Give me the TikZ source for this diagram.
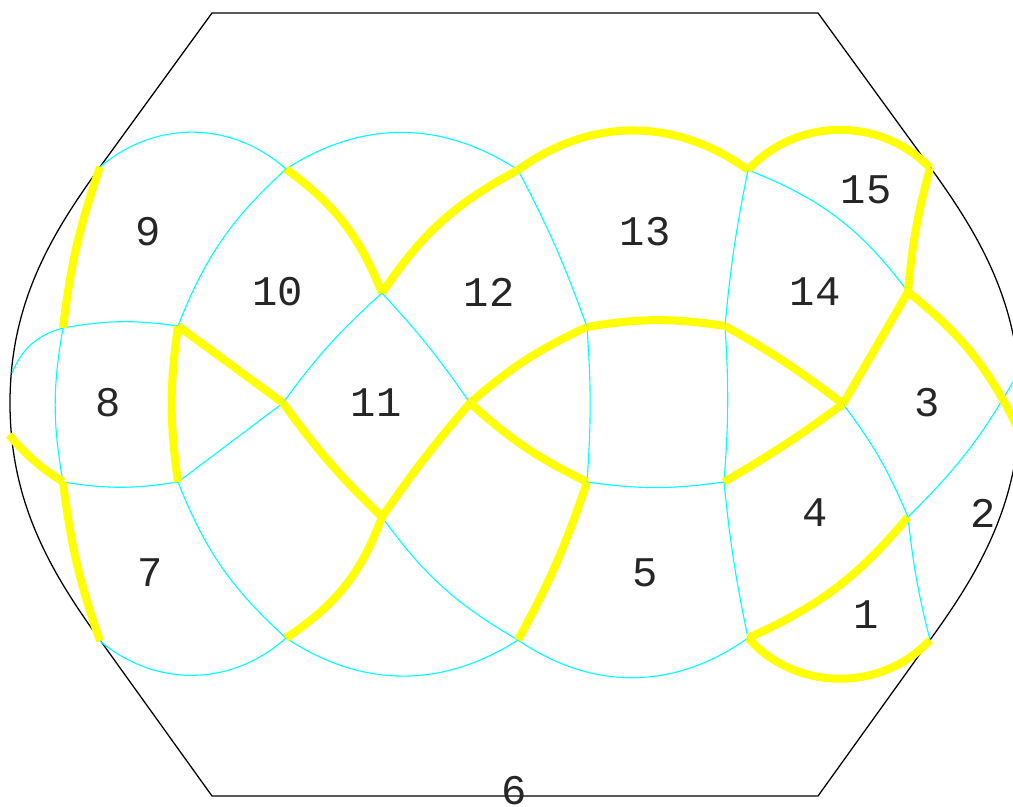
\documentclass[tikz,border=0pt]{standalone}
\usepackage{fontspec}
\setmonofont{Liberation Mono}
\definecolor{seamcyan}{RGB}{0,255,255}
\definecolor{cutyellow}{RGB}{255,255,0}
\tikzset{
  rim/.style={draw=black, line width=0.9pt},
  seam/.style={draw=seamcyan, line width=0.8pt},
  cut/.style={draw=cutyellow, line width=5.7pt},
  lab/.style={font=\ttfamily\fontsize{30}{30}\selectfont, text=black!85, inner sep=0pt},
}
\begin{document}
\begin{tikzpicture}[x=0.025cm, y=0.025cm]
  \useasboundingbox (0,0) rectangle (1013,807);
  % vertices
  \coordinate (a9) at (100,640);
  \coordinate (v8a) at (63,479);
  \coordinate (v8b) at (178,481);
  \coordinate (v7a) at (63,325);
  \coordinate (v7b) at (178,325);
  \coordinate (a7) at (100,166);
  \coordinate (v10) at (286,638);
  \coordinate (v11l) at (283,404);
  \coordinate (v11t) at (382,514);
  \coordinate (v11b) at (382,290);
  \coordinate (a11) at (286,169);
  \coordinate (v12) at (470,404);
  \coordinate (v13) at (518,637);
  \coordinate (v13b) at (587,480);
  \coordinate (v5) at (587,325);
  \coordinate (a5) at (518,167);
  \coordinate (v14t) at (748,637);
  \coordinate (v14l) at (725,481);
  \coordinate (v4) at (724,325);
  \coordinate (a1) at (748,169);
  \coordinate (v3) at (843,403);
  \coordinate (v14r) at (908,515);
  \coordinate (v15) at (930,639);
  \coordinate (v2) at (908,290);
  \coordinate (a1r) at (930,167);
  \coordinate (lcyan) at (12,434);
  \coordinate (lyel) at (9,372);
  \coordinate (rcyan) at (1018,434);
  \coordinate (ryel) at (1021,372);
  % outline
  \draw[rim] (212,794) -- (818,794) -- (930,640)
    .. controls (980,571) and (1020,503) .. (1020,404)
    .. controls (1020,305) and (980,236) .. (930,167) -- (818,11) -- (212,11) -- (100,167)
    .. controls (50,236) and (10,305) .. (10,404)
    .. controls (10,503) and (50,571) .. (100,640) -- cycle;
  % cyan seams
  \draw[seam] (a9) to[bend left=41] (v10);
  \draw[seam] (v10) to[bend left=33] (v13);
  \draw[seam] (a7) to[bend right=41] (a11);
  \draw[seam] (a11) to[bend right=33] (a5);
  \draw[seam] (a5) to[bend right=35] (a1);
  \draw[seam] (v8a) to[bend left=9] (v8b);
  \draw[seam] (v8a) to[bend right=26] (lcyan);
  \draw[seam] (v8a) to[bend right=10] (v7a);
  \draw[seam] (v7a) to[bend right=9] (v7b);
  \draw[seam] (v8b) to[bend left=13] (v10);
  \draw[seam] (v7b) to[bend right=13] (a11);
  \draw[seam] (v7b) -- (v11l);
  \draw[seam] (v11l) to[bend left=6] (v11t);
  \draw[seam] (v11t) to[bend left=4] (v12);
  \draw[seam] (v11b) to[bend right=12] (a5);
  \draw[seam] (v13) to[bend left=4] (v13b);
  \draw[seam] (v13b) to[bend left=4] (v5);
  \draw[seam] (v5) to[bend right=8] (v4);
  \draw[seam] (v14t) to[bend right=3] (v14l);
  \draw[seam] (v14l) to[bend left=4] (v4);
  \draw[seam] (v4) to[bend right=3] (a1);
  \draw[seam] (v14t) to[bend left=16] (v14r);
  \draw[seam] (v3) to[bend left=7] (v2);
  \draw[seam] (v2) to[bend right=4] (a1r);
  \draw[seam] (v2) to[bend right=8] (rcyan);
  % yellow cuts
  \draw[cut] (a9) to[bend right=6] (v8a);
  \draw[cut] (lyel) to[bend right=8] (v7a);
  \draw[cut] (v7a) to[bend right=6] (a7);
  \draw[cut] (v8b) to[bend right=8] (v7b);
  \draw[cut] (v8b) -- (v11l);
  \draw[cut] (v11l) to[bend right=5] (v11b);
  \draw[cut] (v10) to[bend left=16] (v11t);
  \draw[cut] (v11t) to[bend left=14] (v13);
  \draw[cut] (v11b) to[bend left=3] (v12);
  \draw[cut] (v11b) to[bend left=18] (a11);
  \draw[cut] (v12) to[bend left=8] (v13b);
  \draw[cut] (v12) to[bend right=8] (v5);
  \draw[cut] (v5) to[bend left=5] (a5);
  \draw[cut] (v13b) to[bend left=9] (v14l);
  \draw[cut] (v14l) to[bend left=4] (v3);
  \draw[cut] (v4) to[bend right=3] (v3);
  \draw[cut] (v13) to[bend left=36] (v14t);
  \draw[cut] (v14t) to[bend left=47] (v15);
  \draw[cut] (v14r) to[bend left=5] (v15);
  \draw[cut] (v14r) -- (v3);
  \draw[cut] (v14r) to[bend left=13] (ryel);
  \draw[cut] (v2) to[bend left=13] (a1);
  \draw[cut] (a1) to[bend right=48] (a1r);
  % face labels
  \node[lab] (f1) at (866,192) {1};
  \node[lab] (f2) at (983,294) {2};
  \node[lab] (f3) at (927,404) {3};
  \node[lab] (f4) at (815,294) {4};
  \node[lab] (f5) at (645,234) {5};
  \node[lab] (f6) at (514,16) {6};
  \node[lab] (f7) at (150,234) {7};
  \node[lab] (f8) at (108,404) {8};
  \node[lab] (f9) at (148,575) {9};
  \node[lab] (f10) at (278,515) {10};
  \node[lab] (f11) at (376,404) {11};
  \node[lab] (f12) at (489,515) {12};
  \node[lab] (f13) at (645,575) {13};
  \node[lab] (f14) at (815,515) {14};
  \node[lab] (f15) at (866,617) {15};
\end{tikzpicture}
\end{document}
